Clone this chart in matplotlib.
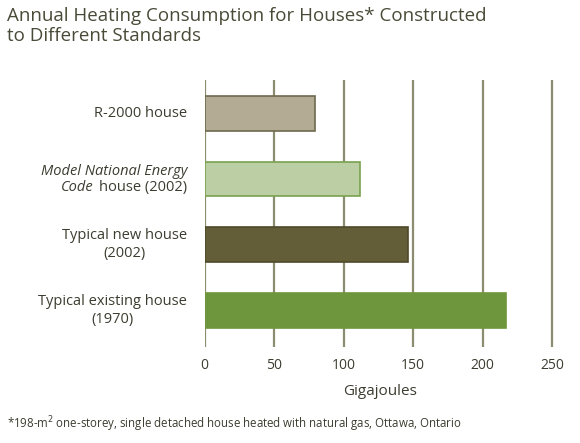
import matplotlib
matplotlib.use("Agg")
import matplotlib.pyplot as plt
from matplotlib.offsetbox import TextArea, HPacker, AnchoredOffsetbox, AnnotationBbox

categories = ["R-2000 house", "Model National Energy Code house (2002)",
              "Typical new house (2002)", "Typical existing house (1970)"]
values = [79, 112, 146, 217]
colors = ["#b3ab94", "#bccfa4", "#645e38", "#6e963c"]
edges = ["#6e6a4e", "#7aa24e", "#4e4a2a", "#6e963c"]
ticks = [0, 50, 100, 150, 200, 250]

plt.rcParams['font.family'] = ['Open Sans', 'DejaVu Sans']
tc = "#3c3c30"
fig = plt.figure(figsize=(5.8, 4.43), dpi=100)
ax = fig.add_axes([0.353, 0.217, 0.604, 0.602])
ypos = list(range(len(values)))
ax.barh(ypos, values, height=0.53, color=colors, edgecolor=edges, linewidth=1.2, zorder=3)
ax.set_ylim(3.55, -0.5)
ax.set_xlim(0, 252)
ax.set_xticks(ticks)
ax.set_xticklabels([str(t) for t in ticks], color=tc, fontsize=10)
for t in ticks:
    ax.axvline(t, color="#8c8c70", lw=1.6, zorder=1)
for s in ax.spines.values():
    s.set_visible(False)
ax.tick_params(axis='x', length=0, pad=8)
ax.set_yticks([])
ax.set_xlabel("Gigajoules", color=tc, fontsize=11, labelpad=8)

lx = -0.05
tr = ax.get_yaxis_transform()
fs = 10.5
ax.text(lx, 0, "R-2000 house", transform=tr, ha='right', va='center', fontsize=fs, color=tc)
ax.text(lx, 1, "Model National Energy", transform=tr, ha='right', va='bottom', fontsize=fs, color=tc, style='italic')
packed = HPacker(children=[TextArea("Code", textprops=dict(fontsize=fs, color=tc, style='italic')),
                           TextArea("house (2002)", textprops=dict(fontsize=fs, color=tc))],
                 pad=0, sep=4)
ab = AnnotationBbox(packed, (lx, 1.02), xycoords=tr, box_alignment=(1, 1), frameon=False, pad=0)
ax.add_artist(ab)
ax.text(lx, 2, "Typical new house\n(2002)", transform=tr, ha='right', va='center', fontsize=fs, color=tc, multialignment='center', linespacing=1.3)
ax.text(lx, 3, "Typical existing house\n(1970)", transform=tr, ha='right', va='center', fontsize=fs, color=tc, multialignment='center', linespacing=1.3)

fig.text(0.012, 0.985, "Annual Heating Consumption for Houses* Constructed\nto Different Standards",
         ha='left', va='top', fontsize=13.5, color="#4a4a38", linespacing=1.15)
fig.text(0.012, 0.02, "*198-m$^2$ one-storey, single detached house heated with natural gas, Ottawa, Ontario",
         ha='left', va='bottom', fontsize=8.3, color=tc)
fig.savefig("out.png", dpi=100)
